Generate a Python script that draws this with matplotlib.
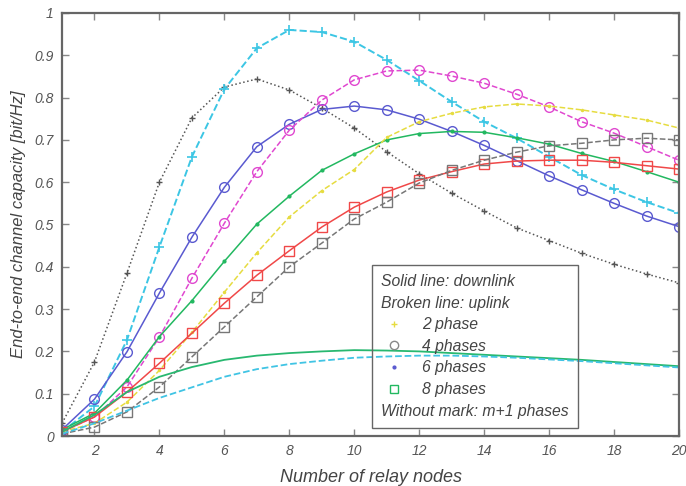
import matplotlib
matplotlib.use("Agg")
import matplotlib.pyplot as plt
from matplotlib.lines import Line2D

plt.rcParams['font.family'] = ['Liberation Sans', 'DejaVu Sans']

nodes = list(range(1, 21))

# m+1 phases (no markers)
m1_down = [0.03, 0.175, 0.385, 0.60, 0.752, 0.825, 0.844, 0.818, 0.775, 0.728,
           0.672, 0.62, 0.574, 0.532, 0.492, 0.462, 0.432, 0.406, 0.383, 0.362]
m1_up = [0.01, 0.07, 0.227, 0.447, 0.66, 0.82, 0.917, 0.96, 0.955, 0.932,
         0.889, 0.84, 0.79, 0.743, 0.704, 0.66, 0.617, 0.583, 0.553, 0.527]
# 4 phases
p4_down = [0.015, 0.087, 0.199, 0.338, 0.47, 0.588, 0.684, 0.737, 0.772, 0.78,
           0.771, 0.749, 0.72, 0.687, 0.651, 0.615, 0.582, 0.55, 0.52, 0.495]
p4_up = [0.01, 0.045, 0.116, 0.234, 0.373, 0.503, 0.625, 0.723, 0.794, 0.842,
         0.863, 0.865, 0.851, 0.834, 0.808, 0.778, 0.743, 0.716, 0.684, 0.652]
# 6 phases
p6_down = [0.015, 0.054, 0.132, 0.235, 0.32, 0.413, 0.501, 0.567, 0.628, 0.667,
           0.70, 0.715, 0.72, 0.718, 0.705, 0.69, 0.668, 0.649, 0.625, 0.60]
p2_up = [0.01, 0.03, 0.08, 0.155, 0.245, 0.34, 0.433, 0.518, 0.58, 0.63,
         0.706, 0.743, 0.763, 0.778, 0.785, 0.78, 0.771, 0.759, 0.747, 0.728]
# 8 phases
p8_down = [0.01, 0.045, 0.104, 0.172, 0.243, 0.314, 0.38, 0.438, 0.494, 0.541,
           0.577, 0.605, 0.625, 0.643, 0.65, 0.652, 0.652, 0.647, 0.639, 0.631]
p8_up = [0.005, 0.021, 0.057, 0.116, 0.187, 0.258, 0.329, 0.40, 0.456, 0.513,
         0.553, 0.598, 0.628, 0.652, 0.671, 0.686, 0.692, 0.70, 0.704, 0.70]
# low curves, no markers
low_down = [0.01, 0.05, 0.104, 0.14, 0.163, 0.18, 0.19, 0.196, 0.2, 0.203,
            0.202, 0.2, 0.196, 0.192, 0.188, 0.184, 0.18, 0.175, 0.17, 0.165]
low_up = [0.005, 0.03, 0.06, 0.09, 0.115, 0.14, 0.158, 0.17, 0.178, 0.185,
          0.188, 0.19, 0.19, 0.188, 0.185, 0.181, 0.177, 0.172, 0.167, 0.162]

x_ticks = [2, 4, 6, 8, 10, 12, 14, 16, 18, 20]
y_ticks = [0, 0.1, 0.2, 0.3, 0.4, 0.5, 0.6, 0.7, 0.8, 0.9, 1]
y_ticklabels = ['0', '0.1', '0.2', '0.3', '0.4', '0.5', '0.6', '0.7', '0.8', '0.9', '1']

fig = plt.figure(figsize=(6.86, 4.86), dpi=100)
ax = fig.add_axes([62 / 686, 50 / 486, 617 / 686, 423 / 486])

lw = 1.1
ax.plot(nodes, m1_down, color='#555555', ls=':', lw=lw, marker='+', ms=5, mew=1.0)
ax.plot(nodes, m1_up, color='#3cc6e4', ls='--', lw=1.4, marker='+', ms=7, mew=1.2)
ax.plot(nodes, p4_down, color='#5a5ad0', ls='-', lw=lw, marker='o', ms=7, mfc='none', mew=1.0)
ax.plot(nodes, p4_up, color='#e048d0', ls='--', lw=lw, marker='o', ms=7, mfc='none', mew=1.0)
ax.plot(nodes, p6_down, color='#22b860', ls='-', lw=lw, marker='.', ms=4)
ax.plot(nodes, p2_up, color='#e6dc40', ls='--', lw=lw, marker='.', ms=3)
ax.plot(nodes, p8_down, color='#f04848', ls='-', lw=lw, marker='s', ms=7, mfc='none', mew=1.0)
ax.plot(nodes, p8_up, color='#777777', ls='--', lw=lw, marker='s', ms=7, mfc='none', mew=1.0)
ax.plot(nodes, low_down, color='#28b870', ls='-', lw=1.3)
ax.plot(nodes, low_up, color='#40c4e4', ls='--', lw=1.3)

ax.set_xlim(1, 20)
ax.set_ylim(0, 1)
ax.set_xticks(x_ticks)
ax.set_yticks(y_ticks)
ax.set_yticklabels(y_ticklabels)

tc = '#555555'
for s in ax.spines.values():
    s.set_color('#666666')
    s.set_linewidth(1.6)
ax.tick_params(direction='in', top=True, right=True, length=5, width=1,
               color='#888888', labelcolor=tc, labelsize=10, pad=6)
for lab in ax.get_xticklabels() + ax.get_yticklabels():
    lab.set_fontstyle('italic')

ax.set_xlabel('Number of relay nodes', fontsize=13, fontstyle='italic', color='#444444', labelpad=8)
ax.set_ylabel('End-to-end channel capacity [bit/Hz]', fontsize=12, fontstyle='italic', color='#444444', labelpad=6)

handles = [
    Line2D([], [], ls='none'),
    Line2D([], [], ls='none'),
    Line2D([], [], ls='none', marker='+', color='#e6dc40', ms=5),
    Line2D([], [], ls='none', marker='o', color='#888888', mfc='none', ms=6),
    Line2D([], [], ls='none', marker='.', color='#5a5ad0', ms=4),
    Line2D([], [], ls='none', marker='s', color='#22b860', mfc='none', ms=6),
    Line2D([], [], ls='none'),
]
labels = ['Solid line: downlink', 'Broken line: uplink', '2 phase', '4 phases',
          '6 phases', '8 phases', 'Without mark: m+1 phases']
leg = ax.legend(handles, labels, loc='upper left', bbox_to_anchor=(0.502, 0.405),
                borderaxespad=0, frameon=True, fancybox=False,
                facecolor='none', edgecolor='#666666',
                prop={'size': 11.3, 'style': 'italic'},
                labelspacing=0.42, handlelength=1.6, handletextpad=1.0,
                borderpad=0.6)
leg.get_frame().set_linewidth(1.0)
leg.get_frame().set_alpha(None)
for t in leg.get_texts():
    t.set_color('#444444')

# text-only legend rows: remove handle space
try:
    col = leg._legend_handle_box.get_children()[0]
    rows = col.get_children()
    for i in (0, 1, 6):
        hp = rows[i]
        hp.get_children()[0].width = 0
        hp.sep = 0
except Exception:
    pass

fig.savefig('out.png', dpi=100)
